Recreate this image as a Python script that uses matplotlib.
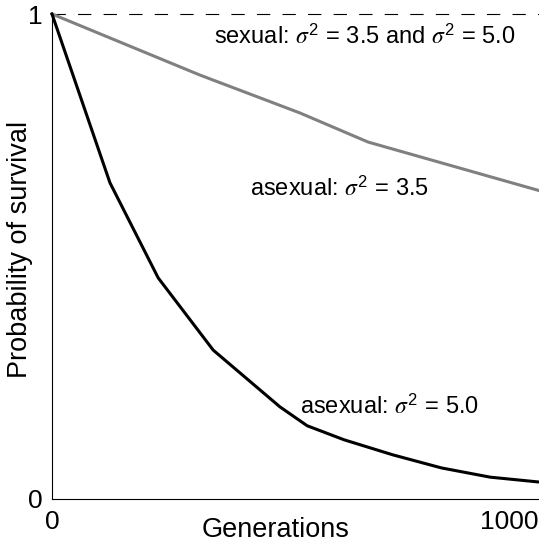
import matplotlib
matplotlib.use('Agg')
import matplotlib.pyplot as plt

plt.rcParams['font.family'] = ['Liberation Sans', 'DejaVu Sans']
plt.rcParams['mathtext.fontset'] = 'custom'
plt.rcParams['mathtext.rm'] = 'Liberation Sans'
plt.rcParams['mathtext.it'] = 'STIXGeneral:italic'

# values
gen_asex50 = [0, 119, 218, 331, 468, 524, 600, 700, 800, 900, 1000]
surv_asex50 = [1.0, 0.652, 0.456, 0.307, 0.190, 0.151, 0.122, 0.091, 0.064, 0.045, 0.035]

gen_asex35 = [0, 304, 509, 649, 1000]
surv_asex35 = [1.0, 0.874, 0.796, 0.736, 0.636]

gen_sex = [0, 1000]
surv_sex = [1.0, 1.0]

x_ticks = [0, 1000]
y_ticks = [0, 1]

fig = plt.figure(figsize=(5.39, 5.47), dpi=100)
ax = fig.add_axes([52 / 539, 48 / 547, 487 / 539, 485 / 547])

ax.plot(gen_sex, surv_sex, color='black', lw=0.8, dashes=(12, 11), clip_on=False)
ax.plot(gen_asex35, surv_asex35, color='#808080', lw=2.2, clip_on=False)
ax.plot(gen_asex50, surv_asex50, color='black', lw=2.2, clip_on=False)

ax.text(642, 0.953, r'sexual: $\sigma^2$ = 3.5 and $\sigma^2$ = 5.0',
        fontsize=17, ha='center', va='center')
ax.text(591, 0.641, r'asexual: $\sigma^2$ = 3.5', fontsize=17, ha='center', va='center')
ax.text(694, 0.19, r'asexual: $\sigma^2$ = 5.0', fontsize=17, ha='center', va='center')

ax.set_xlim(0, 1000)
ax.set_ylim(0, 1)
ax.set_xticks(x_ticks)
ax.set_yticks(y_ticks)
ax.set_xticklabels([str(v) for v in x_ticks], fontsize=19)
ax.set_yticklabels([str(v) for v in y_ticks], fontsize=19)
ax.get_xticklabels()[-1].set_ha('right')
ax.tick_params(axis='x', length=0, pad=8)
ax.tick_params(axis='y', length=0, pad=7)

for s in ['top', 'right']:
    ax.spines[s].set_visible(False)
for s in ['left', 'bottom']:
    ax.spines[s].set_linewidth(0.8)

ax.set_xlabel('Generations', fontsize=19.5)
ax.set_ylabel('Probability of survival', fontsize=19.5)
ax.xaxis.set_label_coords(0.46, -0.064)
ax.xaxis.label.set_va('center')
ax.yaxis.set_label_coords(-0.066, 0.515)
ax.yaxis.label.set_va('center')

fig.savefig('out.png', dpi=100)
